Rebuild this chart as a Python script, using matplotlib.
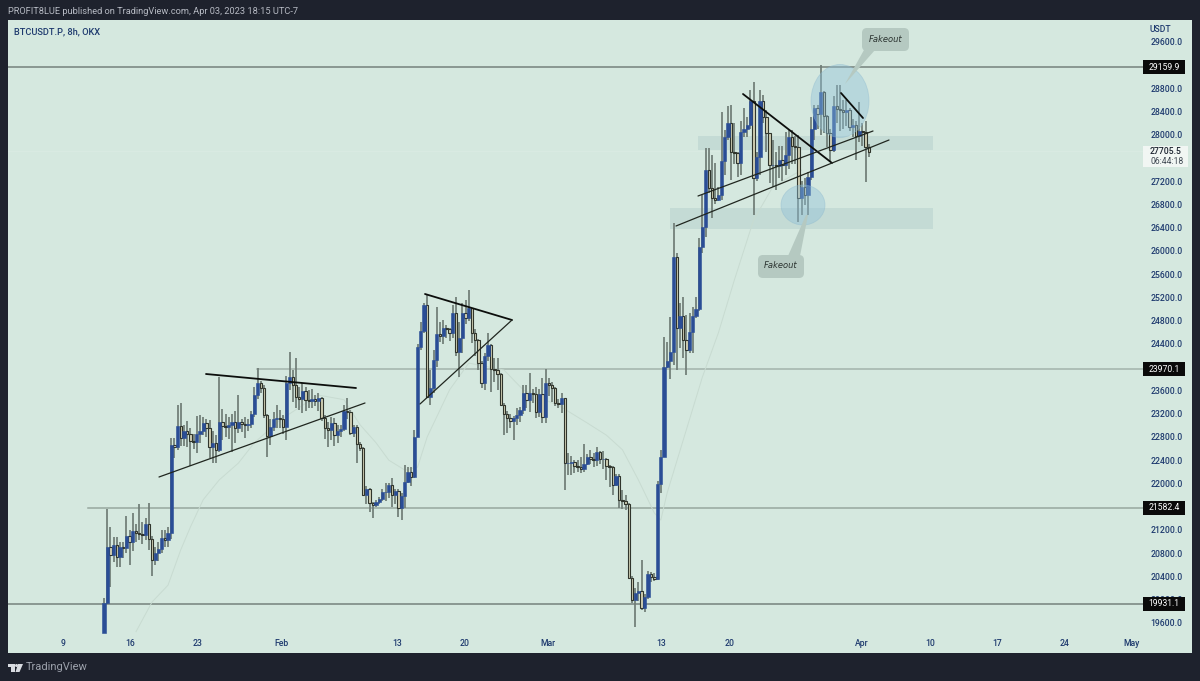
import numpy as np
import matplotlib
matplotlib.use("Agg")
from matplotlib import pyplot as plt
from matplotlib.patches import Rectangle, Ellipse, FancyBboxPatch, Polygon, Circle

W, H = 1200, 681

first_open = 19430
closes = [
    19945, 20907, 20770, 20940, 20735, 20900, 20890, 21100, 20990, 21180,
    21150, 21130, 21120, 21300, 21045, 20680, 20800, 20880, 21060, 21020,
    21150, 22660, 22620, 22990, 22780, 22900, 22850, 22730, 22720, 22850,
    22900, 23040, 22950, 22620, 22700, 22570, 23060, 22990, 22970, 23000,
    23060, 22950, 23060, 23020, 23000, 23030, 23200, 23520, 23730, 23640,
    23180, 22820, 22970, 23110, 23130, 23100, 22970, 23730, 23830, 23690,
    23490, 23450, 23590, 23440, 23420, 23450, 23420, 23470, 23130, 22950,
    22920, 23040, 22830, 22900, 22930, 23250, 23230, 22870, 22970, 22680,
    22610, 21800, 21900, 21660, 21630, 21680, 21730, 21850, 21860, 21980,
    21800, 21870, 21580, 21790, 22030, 22200, 22110, 22800, 24340, 24620,
    25070, 23490, 23640, 24120, 24570, 24540, 24680, 24650, 24580, 24930,
    24260, 24500, 24930, 24850, 25010, 24580, 24470, 24070, 23720, 24190,
    24380, 23970, 23950, 23880, 23350, 23200, 23120, 23070, 23130, 23180,
    23260, 23560, 23440, 23560, 23530, 23230, 23530, 23150, 23720, 23690,
    23640, 23390, 23370, 23470, 22350, 22350, 22370, 22300, 22280, 22250,
    22330, 22450, 22420, 22400, 22540, 22420, 22420, 22300, 22280, 21970,
    22130, 21720, 21690, 21650, 20370, 20000, 20120, 20150, 19860, 20050,
    20440, 20390, 20360, 21990, 22460, 24000, 24100, 24260, 25890, 24680,
    24880, 24470, 24290, 24600, 24880, 25000, 26070, 26410, 27390, 27080,
    26910, 26880, 26960, 27550, 27960, 28190, 27700, 27690, 27510, 28040,
    28100, 28160, 28570, 27250, 27620, 28570, 28300, 28020, 27480, 27480,
    27460, 27560, 27470, 27650, 27960, 27800, 27780, 26910, 27100, 26960,
    27270, 28100, 28460, 28350, 28730, 28320, 28020, 27730, 28490, 28440,
    28420, 28390, 28420, 28130, 28170, 27970, 28060, 28050, 27790, 27705,
]
highs = [
    20030, 21560, 21250, 21080, 21080, 21000, 21000, 21440, 21200, 21490,
    21300, 21650, 21330, 21400, 21660, 21100, 20900, 20990, 21200, 21200,
    21250, 22780, 22780, 23350, 23380, 23000, 23070, 22950, 22850, 23160,
    23180, 23140, 23100, 23090, 22900, 22840, 23830, 23280, 23200, 23150,
    23200, 23250, 23520, 23100, 23150, 23100, 23250, 23660, 23990, 23760,
    23700, 23200, 23100, 23230, 23350, 23260, 23180, 23850, 24260, 23950,
    24160, 23650, 23730, 23660, 23600, 23620, 23520, 23550, 23480, 23180,
    23050, 23140, 23120, 23000, 23000, 23350, 23470, 23260, 23000, 23010,
    22720, 22620, 21950, 21930, 21680, 21720, 21760, 21900, 22000, 22010,
    22090, 21900, 21900, 21830, 22320, 22280, 22280, 22920, 24400, 24780,
    25100, 25240, 23950, 24300, 25030, 24780, 24810, 24720, 24680, 25070,
    25200, 24780, 25100, 25150, 25330, 25000, 24650, 24480, 24100, 24250,
    24590, 24400, 24150, 24150, 23900, 23380, 23250, 23200, 23160, 23300,
    23310, 23700, 23700, 23900, 23620, 23660, 23620, 23810, 23970, 23810,
    23750, 23650, 23450, 23560, 23470, 22530, 22480, 22400, 22400, 22450,
    22680, 22500, 22580, 22520, 22620, 22550, 22560, 22440, 22320, 22300,
    22160, 22160, 21880, 21800, 21660, 20400, 20200, 20300, 20680, 20100,
    20500, 20480, 20460, 22050, 22580, 24520, 24430, 24860, 26480, 25970,
    25100, 25200, 24900, 24930, 25030, 25200, 26220, 26960, 27770, 27770,
    27650, 27510, 27100, 28390, 28080, 28490, 28510, 28200, 27700, 28240,
    28460, 28300, 28760, 28900, 27700, 28760, 28680, 28420, 28000, 27900,
    27700, 27800, 27800, 28040, 28080, 28080, 27980, 27990, 27200, 27260,
    27350, 28300, 28500, 28500, 29200, 28750, 28340, 28100, 28670, 28850,
    28850, 28600, 28600, 28460, 28260, 28240, 28560, 28200, 28240, 27830,
]
lows = [
    19420, 19930, 20220, 20650, 20560, 20560, 20720, 20800, 20600, 20840,
    21000, 21030, 20950, 21030, 20850, 20400, 20600, 20660, 20800, 20900,
    20900, 21050, 22430, 22570, 22650, 22650, 22620, 22300, 22600, 22520,
    22700, 22830, 22800, 22430, 22350, 22350, 22540, 22750, 22800, 22770,
    22540, 22700, 22870, 22880, 22780, 22900, 22950, 23150, 23450, 23550,
    23130, 22460, 22660, 22900, 22950, 22950, 22850, 22750, 23600, 23400,
    23300, 23260, 23210, 23250, 23300, 23300, 23330, 23250, 23080, 22760,
    22630, 22750, 22640, 22700, 22800, 22900, 23100, 22840, 22800, 22350,
    22550, 21780, 21650, 21510, 21400, 21600, 21650, 21700, 21700, 21750,
    21600, 21650, 21430, 21370, 21580, 22000, 21950, 22090, 22800, 24300,
    24580, 23470, 23350, 23550, 24000, 24430, 24400, 24500, 24450, 24500,
    24200, 23830, 24250, 24750, 24800, 24420, 24200, 23950, 23640, 23600,
    24100, 23570, 23750, 23600, 23330, 22830, 22870, 22950, 22750, 23000,
    23050, 23200, 23300, 23230, 23380, 23120, 23150, 23040, 23040, 23500,
    23400, 23330, 23300, 23210, 21890, 22140, 22140, 22180, 22200, 22180,
    22200, 22320, 22330, 22280, 22300, 22330, 22250, 22060, 21940, 21800,
    21950, 21580, 21560, 21550, 20350, 19950, 19530, 19980, 19820, 19790,
    20020, 20300, 20320, 20340, 21840, 22450, 23990, 23800, 24030, 23950,
    24330, 24160, 23870, 24250, 24240, 24850, 24960, 25960, 26240, 27000,
    26560, 26800, 26850, 26880, 27300, 27900, 27220, 27500, 27270, 27300,
    27950, 27950, 28100, 26620, 27200, 27300, 28200, 27700, 27160, 27100,
    27050, 27250, 27200, 27300, 27400, 27500, 27500, 26500, 26620, 26790,
    26620, 27220, 27900, 28100, 27990, 28020, 27780, 27540, 27700, 28200,
    28060, 28100, 28150, 28060, 27950, 27560, 27880, 27800, 27180, 27620,
]
opens = [first_open] + closes[:-1]

# slow moving average
ema_idx = [10, 15, 20, 24, 27, 31, 36, 42, 47, 55, 67, 75, 80, 85, 89, 94, 98, 101,
           108, 114, 125, 131, 143, 151, 157, 162, 167, 172, 174, 176, 187, 192,
           197, 203, 209, 218]
ema_val = [19450, 19960, 20250, 20860, 21250, 21720, 22060, 22350, 22700, 23090,
           23520, 23440, 23010, 22700, 22400, 22230, 22280, 22800, 23610, 24070,
           23950, 23610, 23310, 23040, 22830, 22580, 22060, 21490, 21370, 21840,
           23830, 24590, 25500, 26530, 27100, 27390]

levels = [29159.9, 23970.1, 21582.4, 19931.1]
level_start = [8, 257, 88, 8]
level_color = ["#75827c", "#a3b3ab", "#97a79f", "#75827c"]

# scale labels that the tags cover are left out
price_ticks = [19600, 20000, 20400, 20800, 21200, 22000, 22400, 22800, 23200, 23600, 24400,
               24800, 25200, 25600, 26000, 26400, 26800, 27200, 28000, 28400, 28800, 29600]
date_ticks = [8, 15, 22, 30.8, 42.8, 49.8, 58.5, 70.3, 77.4, 91.2, 98.3, 105.3, 112.3, 119.3]  # days from Jan 1
date_labels = ["9", "16", "23", "Feb", "13", "20", "Mar", "13", "20", "Apr", "10", "17", "24", "May"]

BG = "#1e222d"
PANEL = "#d5e8df"
NAVY = "#1e3a6e"
BLUE = "#2a4d96"
plt.rcParams["font.family"] = ["Roboto", "DejaVu Sans"]

fig = plt.figure(figsize=(W / 100, H / 100), dpi=100, facecolor=BG)


def px_ax(z):
    a = fig.add_axes([0, 0, 1, 1], zorder=z)
    a.set_xlim(0, W)
    a.set_ylim(H, 0)
    a.axis("off")
    a.patch.set_alpha(0)
    return a


back = px_ax(0)
front = px_ax(2)

back.add_patch(Rectangle((8, 20), 1184, 633, fc=PANEL, ec="none"))
back.add_patch(Rectangle((698, 136), 235, 14, fc="#c4dbd5", ec="none"))
back.add_patch(Rectangle((670, 208), 263, 21, fc="#c4dbd5", ec="none"))
back.plot([8, 1143], [151, 151], color="#dcebe4", lw=0.5)

# price chart, axes box runs from the left panel edge to the price scale
left, right, top, bottom = 8, 1143, 20, 640
ax = fig.add_axes([left / W, 1 - bottom / H, (right - left) / W, (bottom - top) / H], zorder=1)
ax.patch.set_alpha(0)
for s in ax.spines.values():
    s.set_visible(False)

per_px = 9200 / 535
ax.set_xlim((left - 104) / 3.2, (right - 104) / 3.2)
ax.set_ylim(19600 - (bottom - 623) * per_px, 19600 + (623 - top) * per_px)

idx = np.arange(len(closes))
o, c, hi, lo = map(np.array, (opens, closes, highs, lows))
up = c >= o

for lev, st, col in zip(levels, level_start, level_color):
    x0 = (st - 104) / 3.2
    ax.plot([x0, ax.get_xlim()[1]], [lev, lev], color=col, lw=1.1, zorder=1)
ax.plot([(257 - 104) / 3.2] * 2, [23970.1, 23700], color="#a3b3ab", lw=0.8, zorder=1)

ax.plot(ema_idx, ema_val, color="#c8dbd1", lw=0.7, zorder=1.5)

ax.vlines(idx, lo, hi, color="#6f7c76", lw=1.25, zorder=2)
ax.bar(idx[~up], (o - c)[~up], bottom=c[~up], width=0.72, color="#d0cfb4",
       edgecolor="#30352c", lw=0.8, zorder=3)
ax.bar(idx[up], (c - o)[up], bottom=o[up], width=0.95, color=BLUE,
       edgecolor=BLUE, lw=0.4, zorder=3)

ticks_x = [3 * (d - 12.27) for d in date_ticks]
ax.set_xticks(ticks_x)
ax.set_xticklabels(date_labels, color=NAVY, fontsize=6.2, fontweight="medium")
ax.set_yticks(price_ticks)
ax.set_yticklabels(["%.1f" % p for p in price_ticks], color=NAVY, fontsize=6.2, fontweight="medium")
ax.get_yticklabels()[-1].set_color("#6c7f8e")
ax.yaxis.tick_right()
ax.tick_params(axis="both", length=0)
ax.tick_params(axis="y", pad=5.5)
ax.tick_params(axis="x", pad=-1)

# hand drawn trend lines
thick = [((206, 374), (356, 388)), ((425, 294), (512, 320)), ((743, 94), (832, 163)), ((841, 93), (863, 118))]
thin = [((159, 477), (365, 403)), ((420, 404), (512, 320)), ((676, 226), (889, 140)), ((698, 196), (873, 131))]
for a, b in thick:
    front.plot([a[0], b[0]], [a[1], b[1]], color="#0c0e0c", lw=1.3, solid_capstyle="round")
for a, b in thin:
    front.plot([a[0], b[0]], [a[1], b[1]], color="#20261f", lw=0.9, solid_capstyle="round")

# fakeout circles and callouts
front.add_patch(Ellipse((840, 101), 58, 73, fc="#8fc0d8", ec="#8db9cf", lw=0.6, alpha=0.42))
front.add_patch(Ellipse((803, 205), 44, 40, fc="#8fc0d8", ec="#8db9cf", lw=0.6, alpha=0.42))
bubble = "#b5c9c1"
front.add_patch(Polygon([(864, 50), (875, 50), (845, 84)], fc=bubble, ec="none"))
front.add_patch(Polygon([(788, 256), (800, 256), (808, 215), (806, 215)], fc=bubble, ec="none"))
front.add_patch(FancyBboxPatch((866, 32), 39, 15, boxstyle="round,pad=4,rounding_size=5", fc=bubble, ec="none"))
front.add_patch(FancyBboxPatch((762, 259), 38, 15, boxstyle="round,pad=4,rounding_size=5", fc=bubble, ec="none"))
front.text(885.5, 39, "Fakeout", fontsize=6, family="DejaVu Sans", style="italic", color="#2b3330", ha="center", va="center")
front.text(781, 266, "Fakeout", fontsize=6, family="DejaVu Sans", style="italic", color="#2b3330", ha="center", va="center")

# price scale tags
for lev, y in zip(levels, [67, 369, 508, 604]):
    front.add_patch(Rectangle((1143, y - 7), 42, 14, fc="#0a0a0a", ec="none"))
    front.text(1164, y, "%.1f" % lev, color="white", fontsize=6.2, ha="center", va="center")
front.add_patch(Rectangle((1143, 146), 45, 21, fc="#f1f6f3", ec="none"))
front.text(1166, 152, "27705.5", color="#1c2430", fontsize=6.2, fontweight="medium", ha="center", va="center")
front.text(1167, 162, "06:44:18", color="#3f4852", fontsize=6.2, ha="center", va="center")
front.text(1150, 30, "USDT", color=NAVY, fontsize=6.2, fontweight="medium", ha="left", va="center")

# header and footer
front.text(8, 11.5, "PROFIT8LUE published on TradingView.com, Apr 03, 2023 18:15 UTC-7",
           color="#b6bac3", fontsize=6.7, ha="left", va="center")
front.text(14, 32, "BTCUSDT.P, 8h, OKX", color=NAVY, fontsize=6.7, fontweight="medium", ha="left", va="center")
front.text(26, 667.5, "TradingView", color="#9ca1ab", fontsize=8, ha="left", va="center")
front.add_patch(Rectangle((8, 664), 7, 3, fc="#d8dbe0", ec="none"))
front.add_patch(Rectangle((11, 664), 4, 8, fc="#d8dbe0", ec="none"))
front.add_patch(Circle((16.5, 665.5), 1.5, fc="#d8dbe0", ec="none"))
front.add_patch(Polygon([(18, 664), (23, 664), (19.5, 672), (15.5, 672)], fc="#d8dbe0", ec="none"))

fig.savefig("out.png", dpi=100, facecolor=BG)
